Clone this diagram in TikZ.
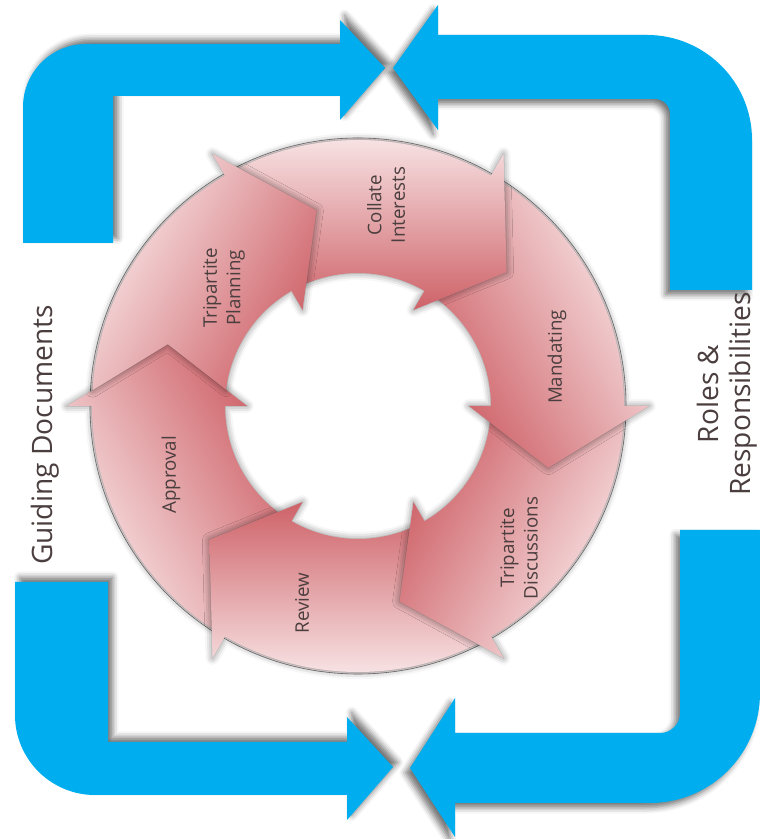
\documentclass[tikz,border=0pt]{standalone}
\usepackage{fontspec}
\setmainfont{Open Sans}
\usetikzlibrary{shadows.blur}
\definecolor{flowblue}{RGB}{0,174,239}
\definecolor{arrowdark}{RGB}{206,98,104}
\definecolor{arrowlight}{RGB}{250,234,235}
\definecolor{ringpink}{RGB}{251,238,239}
\definecolor{labelgray}{RGB}{75,62,62}

\begin{document}
\begin{tikzpicture}[x=0.03cm, y=0.03cm,
  steplabel/.style={text=labelgray, align=center, rotate=90, font=\fontsize{16}{20}\selectfont},
  sidelabel/.style={text=labelgray, align=center, rotate=90, font=\fontsize{24}{27}\selectfont},
  lshadow/.style={blur shadow={shadow xshift=4pt, shadow yshift=4pt, shadow blur radius=5pt, shadow opacity=55}},
  rshadow/.style={blur shadow={shadow xshift=-4pt, shadow yshift=-4pt, shadow blur radius=5pt, shadow opacity=55}},
  ringshadow/.style={blur shadow={shadow xshift=0pt, shadow yshift=0pt, shadow blur radius=6pt, shadow opacity=50}}]
\useasboundingbox (0,0) rectangle (760,839);

% blue bent arrows
\fill[flowblue, lshadow] (23,596) -- (23,732) arc[start angle=180, end angle=90, radius=63] -- (340,795) -- (340,819) -- (385,771) -- (340,719) -- (340,743) -- (113,743) -- (113,596) -- cycle;
\fill[flowblue, rshadow] (393,771) -- (438,834) -- (438,804) -- (647,804) arc[start angle=90, end angle=0, radius=105] -- (752,549) -- (670,549) -- (670,725) arc[start angle=0, end angle=90, radius=15] -- (438,740) -- (438,709) -- cycle;
\fill[flowblue, lshadow] (15,257) -- (108,257) -- (108,97) -- (347,97) -- (347,122) -- (393,72) -- (347,19) -- (347,44) -- (95,44) arc[start angle=270, end angle=180, radius=80] -- cycle;
\fill[flowblue, rshadow] (410,71) -- (455,141) -- (455,106) -- (660,106) arc[start angle=270, end angle=360, radius=20] -- (680,309) -- (760,309) -- (760,146) arc[start angle=0, end angle=-90, radius=110] -- (455,36) -- (455,2) -- cycle;

% ring of six arrows
\begin{scope}[shift={(358,433)}]
\fill[ringpink, even odd rule] (0,0) circle[radius=268] (0,0) circle[radius=133];
\draw[black!55, line width=0.5pt] (0,0) circle[radius=268];
\foreach \f [evaluate=\f as \sa using \f-60] in {180,-120,-60,0,60,120}
  \shade[ringshadow, left color=arrowlight, right color=arrowdark, shading angle=\sa]
    (\f+42:200) -- (\f+56.6:266) arc[start angle=\f+56.6, end angle=\f, radius=266]
    -- (\f:291) -- (\f-18:200) -- (\f:111) -- (\f:133)
    arc[start angle=\f, end angle=\f+52.9, radius=133] -- cycle;
\end{scope}

% labels
\node[steplabel] (tp) at (224,551) {Tripartite\\Planning};
\node[steplabel] (ci) at (386,634) {Collate\\Interests};
\node[steplabel] (md) at (557,482) {Mandating};
\node[steplabel] (td) at (519,291) {Tripartite\\Discussions};
\node[steplabel] (rv) at (302,236) {Review};
\node[steplabel] (ap) at (171,364) {Approval};
\node[sidelabel] (gd) at (45,404) {Guiding Documents};
\node[sidelabel] (rr) at (727,445) {Roles \&\\Responsibilities};
\end{tikzpicture}
\end{document}
